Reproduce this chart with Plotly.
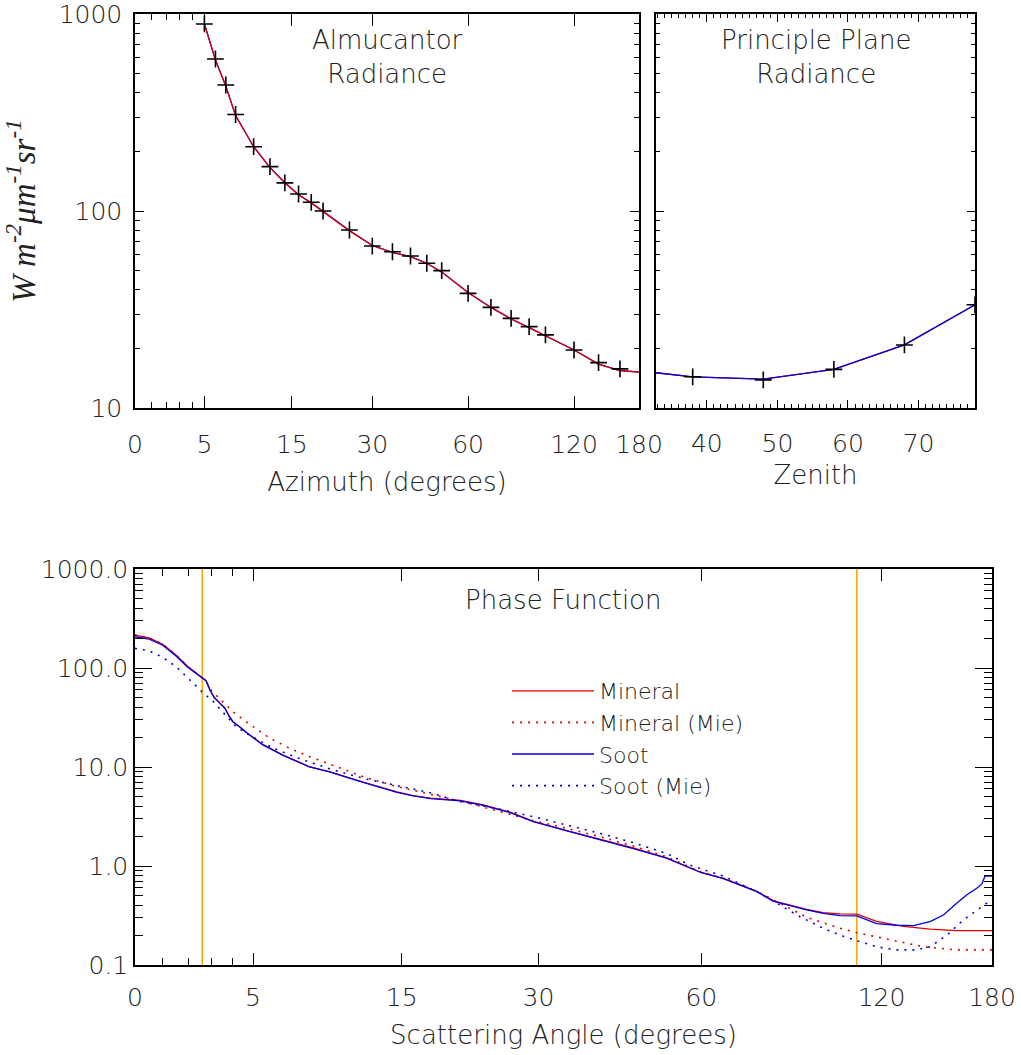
import numpy as np
import plotly.graph_objects as go

# ---------------- data ----------------
OFFSET = 10  # angular axes are drawn as log10(angle + 10)

# Almucantar radiance (observations, crosses)
az_obs = [5, 6, 7, 8, 10, 12, 14, 16, 18, 20, 25, 30, 35, 40, 45, 50, 60, 70, 80, 90, 100, 120, 140, 160]
rad_obs = [890, 591, 436, 309, 212, 168, 139, 122, 110.7, 100, 80.1, 66.4, 62.1, 59.1, 54.3, 49.8,
           38.2, 32.4, 28.5, 25.9, 23.5, 19.7, 17.0, 15.8]
# Almucantar radiance (fitted, lines)
az_fit = [5, 6, 7, 8, 10, 12, 14, 16, 18, 20, 25, 30, 35, 40, 45, 50, 60, 70, 80, 90, 100, 120, 140, 160, 180]
rad_fit = [890, 585, 430, 305, 212, 166, 139, 121, 110, 99.5, 79.5, 66.8, 61.6, 58.6, 54.3, 49.0,
           38.6, 32.4, 28.3, 25.6, 23.3, 19.7, 16.7, 15.5, 15.2]

# Principal plane radiance
zen_obs = [38, 48, 58, 68, 78]
pp_obs = [14.4, 13.9, 15.7, 20.9, 33.4]
zen_fit = [32.8, 38, 48, 58, 68, 78]
pp_fit = [15.1, 14.4, 14.0, 15.7, 20.9, 33.4]

# Phase functions
th_min = [0, 0.5, 1.0, 1.5, 2.0, 2.5, 2.76, 2.94, 3.12, 3.36, 3.62, 3.83, 4.0, 4.35, 4.68, 5.5, 6.6,
          8.2, 9.5, 11.9, 14.6, 16.0, 17.6, 20.6, 23.1, 26.3, 29.3, 34.1, 39.4, 45.4, 52.1, 57.3,
          60, 65.5, 74.7, 79.7, 84.9, 90.5, 96.4, 102.7, 109.4, 117.8, 130.1, 143.6, 158.3, 180]
pf_min = [215, 201, 174, 136, 103, 83, 75, 60, 50.6, 44.7, 39.2, 32.2, 28.7, 25.2, 22.2, 16.9, 13.3,
          10.1, 9.0, 7.05, 5.6, 5.15, 4.85, 4.6, 4.15, 3.5, 2.82, 2.28, 1.87, 1.52, 1.21, 0.955,
          0.86, 0.75, 0.555, 0.445, 0.40, 0.365, 0.338, 0.328, 0.327, 0.276, 0.245, 0.23, 0.222, 0.222]

th_soot = [0, 0.5, 1.0, 1.5, 2.0, 2.5, 2.76, 2.94, 3.12, 3.36, 3.62, 3.83, 4.0, 4.35, 4.68, 5.5, 6.6,
           8.2, 9.5, 11.9, 14.6, 16.0, 17.6, 20.6, 23.1, 26.3, 29.3, 34.1, 39.4, 45.4, 52.1, 57.3,
           60, 65.5, 74.7, 79.7, 84.9, 90.5, 96.4, 102.7, 109.4, 117.8, 126.9, 135, 143.6, 150.8,
           158.3, 164.1, 170.3, 173.5, 175.5, 180]
pf_soot = [207, 196, 170, 133, 101, 82, 74.5, 60, 50.6, 44.7, 39.2, 32.2, 28.7, 25.2, 22.2, 16.8, 13.2,
           10.0, 8.95, 7.0, 5.55, 5.1, 4.8, 4.55, 4.1, 3.45, 2.8, 2.26, 1.85, 1.5, 1.2, 0.95,
           0.855, 0.745, 0.55, 0.44, 0.395, 0.36, 0.333, 0.316, 0.313, 0.262, 0.252, 0.25, 0.274, 0.32,
           0.42, 0.51, 0.595, 0.66, 0.79, 0.79]

th_min_mie = [0, 0.5, 1.0, 1.5, 2.0, 2.5, 2.76, 3.0, 3.5, 4.0, 4.6, 5.19, 5.9, 7.0, 8.24, 10.0, 11.9,
              14.6, 17.9, 21.3, 25.05, 29.3, 34.1, 39.4, 45.4, 52.1, 59.7, 65.5, 74.7, 79.7, 84.9,
              90.5, 96.4, 102.7, 109.4, 123.8, 140.1, 158.3, 180]
pf_min_mie = [215, 201, 174, 136, 103, 83, 74, 59, 46.4, 36.2, 29.1, 24.0, 19.5, 15.5, 12.7, 10.07, 7.98,
              6.33, 5.2, 4.36, 3.54, 2.87, 2.4, 1.98, 1.59, 1.24, 0.877, 0.75, 0.555, 0.45, 0.373,
              0.303, 0.265, 0.235, 0.212, 0.179, 0.153, 0.142, 0.142]

th_soot_mie = [0, 0.5, 1.0, 1.5, 2.15, 2.58, 3.09, 3.5, 4.15, 4.97, 6.07, 7.4, 9.54, 11.9, 14.6, 17.55,
               20.6, 25.05, 29.3, 34.1, 39.4, 45.4, 52.1, 57.3, 65.5, 74.7, 81.7, 88.2, 96.4, 102.7,
               109.4, 117.8, 126.9, 136.6, 143.6, 152.7, 162.2, 170.3, 178.8, 180]
pf_soot_mie = [158, 149, 128, 104, 72.8, 57.7, 45.7, 36.2, 25.5, 20.2, 15.5, 12.5, 9.55, 7.69, 6.48, 5.5,
               4.47, 3.74, 3.15, 2.59, 2.14, 1.72, 1.34, 1.02, 0.79, 0.551, 0.404, 0.308, 0.235, 0.2,
               0.176, 0.153, 0.142, 0.142, 0.153, 0.2, 0.285, 0.36, 0.454, 0.46]

ref_angles = [2.6, 109.4]  # orange marker lines

angle_ticks = [0, 5, 15, 30, 60, 120, 180]
angle_minor = [1, 2, 3, 4]
zen_ticks = [40, 50, 60, 70]

# ---------------- style ----------------
FONT = "DejaVu Sans"
TXT = "#222222"
RED = "#dd0000"
BLUE = "#0000dd"
ORANGE = "#ffa500"
LW = 1.3
DOT = "2px,6px"


def off(v):
    return [a + OFFSET for a in v]


fig = go.Figure()

# --- top left: almucantar ---
fig.add_trace(go.Scatter(x=off(az_fit), y=rad_fit, mode="lines", line=dict(color=BLUE, width=LW),
                         xaxis="x", yaxis="y", showlegend=False))
fig.add_trace(go.Scatter(x=off(az_fit), y=rad_fit, mode="lines", line=dict(color=RED, width=LW),
                         xaxis="x", yaxis="y", showlegend=False))
fig.add_trace(go.Scatter(x=off(az_obs), y=rad_obs, mode="markers",
                         marker=dict(symbol="cross-thin", size=12, line=dict(color="black", width=1.6)),
                         xaxis="x", yaxis="y", showlegend=False))

# --- top right: principal plane ---
fig.add_trace(go.Scatter(x=zen_fit, y=pp_fit, mode="lines", line=dict(color=RED, width=LW),
                         xaxis="x2", yaxis="y2", showlegend=False))
fig.add_trace(go.Scatter(x=zen_fit, y=pp_fit, mode="lines", line=dict(color=BLUE, width=LW),
                         xaxis="x2", yaxis="y2", showlegend=False))
fig.add_trace(go.Scatter(x=zen_obs, y=pp_obs, mode="markers",
                         marker=dict(symbol="cross-thin", size=12, line=dict(color="black", width=1.6)),
                         xaxis="x2", yaxis="y2", showlegend=False))

# --- bottom: phase function ---
for a in ref_angles:
    fig.add_trace(go.Scatter(x=[a + OFFSET, a + OFFSET], y=[0.1, 1000], mode="lines",
                             line=dict(color=ORANGE, width=1.5), xaxis="x3", yaxis="y3",
                             showlegend=False, hoverinfo="skip"))

fig.add_trace(go.Scatter(x=off(th_min), y=pf_min, mode="lines", name="Mineral",
                         line=dict(color=RED, width=LW), xaxis="x3", yaxis="y3"))
fig.add_trace(go.Scatter(x=off(th_min_mie), y=pf_min_mie, mode="lines", name="Mineral (Mie)",
                         line=dict(color=RED, width=1.6, dash=DOT), xaxis="x3", yaxis="y3"))
fig.add_trace(go.Scatter(x=off(th_soot), y=pf_soot, mode="lines", name="Soot",
                         line=dict(color=BLUE, width=LW), xaxis="x3", yaxis="y3"))
fig.add_trace(go.Scatter(x=off(th_soot_mie), y=pf_soot_mie, mode="lines", name="Soot (Mie)",
                         line=dict(color=BLUE, width=1.6, dash=DOT), xaxis="x3", yaxis="y3"))

tickfont = dict(family=FONT, size=25, color=TXT, weight=200)
titlefont = dict(family=FONT, size=26, color=TXT, weight=200)


def base_axis(**kw):
    d = dict(showline=True, linecolor="black", linewidth=1.5, mirror="ticks", ticks="inside",
             tickcolor="black", tickwidth=1.2, showgrid=False, zeroline=False, tickfont=tickfont,
             automargin=False, ticklabeloverflow="allow")
    d.update(kw)
    return d


def minor(vals=None, length=5, **kw):
    m = dict(ticks="inside", ticklen=length, tickcolor="black", tickwidth=1, showgrid=False)
    if vals is not None:
        m.update(tickmode="array", tickvals=vals)
    m.update(kw)
    return m


dec_minor_top = [v * 10 ** e for e in (1, 2) for v in range(2, 10)]
dec_minor_bot = [v * 10 ** e for e in (-1, 0, 1, 2) for v in range(2, 10)]

ang_axis = dict(type="log", range=[1, np.log10(180 + OFFSET)], tickmode="array",
                tickvals=off(angle_ticks), ticktext=[str(t) for t in angle_ticks], ticklen=12)

Y_TOP = [1 - 408 / 1055, 1 - 14 / 1055]
Y_BOT = [1 - 965 / 1055, 1 - 569 / 1055]

fig.update_layout(
    width=1021, height=1055, margin=dict(l=0, r=0, t=0, b=0, autoexpand=False),
    paper_bgcolor="white", plot_bgcolor="white",
    xaxis=base_axis(**ang_axis, minor=minor(off(angle_minor), 6), ticklabelstandoff=13,
                    domain=[135 / 1021, 639 / 1021], anchor="y",
                    title=dict(text="Azimuth (degrees)", font=titlefont, standoff=15)),
    yaxis=base_axis(type="log", range=[1, 3], tickmode="array", tickvals=[10, 100, 1000],
                    ticktext=["10", "100", "1000"], ticklen=9, minor=minor(dec_minor_top, 5),
                    ticklabelstandoff=6,
                    domain=Y_TOP, anchor="x",
                    title=dict(text="<i>W m<sup>-2</sup>μm<sup>-1</sup>sr<sup>-1</sup></i>",
                               font=dict(family="Liberation Serif", size=33, color=TXT), standoff=16)),
    xaxis2=base_axis(range=[32.8, 78.0], tickmode="array", tickvals=zen_ticks,
                     ticktext=[str(t) for t in zen_ticks], ticklen=8, ticklabelstandoff=12,
                     minor=minor(None, 4, tickmode="linear", tick0=0, dtick=1),
                     domain=[656 / 1021, 975 / 1021], anchor="y2",
                     title=dict(text="Zenith", font=titlefont, standoff=9)),
    yaxis2=base_axis(type="log", range=[1, 3], tickmode="array", tickvals=[10, 100, 1000],
                     showticklabels=False, ticklen=8, minor=minor(dec_minor_top, 4),
                     domain=Y_TOP, anchor="x2"),
    xaxis3=base_axis(**ang_axis, minor=minor(off(angle_minor), 7), ticklabelstandoff=9,
                     domain=[135 / 1021, 992 / 1021], anchor="y3",
                     title=dict(text="Scattering Angle (degrees)", font=titlefont, standoff=15)),
    yaxis3=base_axis(type="log", range=[-1, 3], tickmode="array",
                     tickvals=[0.1, 1, 10, 100, 1000],
                     ticktext=["0.1", "1.0", "10.0", "100.0", "1000.0"], ticklen=17,
                     ticklabelstandoff=0,
                     minor=minor(dec_minor_bot, 8), domain=Y_BOT, anchor="x3"),
    legend=dict(x=507 / 1021, y=1 - 670 / 1055, xanchor="left", yanchor="top",
                bgcolor="rgba(0,0,0,0)", font=dict(family=FONT, size=22, color=TXT, weight=200),
                itemwidth=82, tracegroupgap=0),
    annotations=[
        dict(text="Almucantor<br>Radiance", xref="x domain", yref="y domain", x=0.5,
             y=1 - 43 / 394, showarrow=False, font=titlefont, yanchor="middle"),
        dict(text="Principle Plane<br>Radiance", xref="x2 domain", yref="y2 domain", x=0.5,
             y=1 - 43 / 394, showarrow=False, font=titlefont, yanchor="middle"),
        dict(text="Phase Function", xref="x3 domain", yref="y3 domain", x=0.5, y=1 - 31 / 396,
             showarrow=False, font=titlefont, yanchor="middle"),
    ],
)

fig.write_html("out.html")
